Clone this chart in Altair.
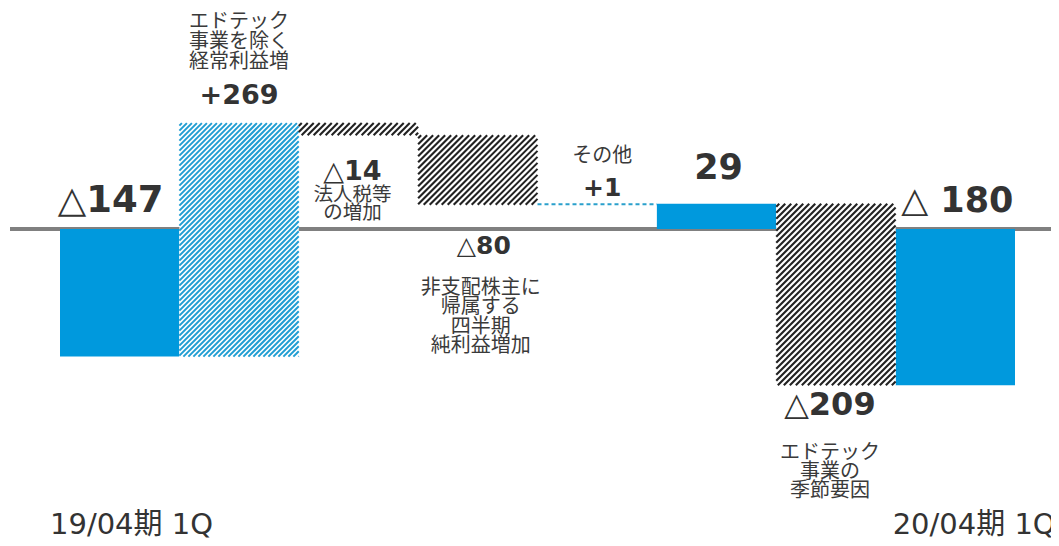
import altair as alt
import pandas as pd

# ---------------- data ----------------
categories = ["19/04期 1Q", "エドテック事業を除く経常利益増", "法人税等の増加",
              "非支配株主に帰属する四半期純利益増加", "その他", "小計",
              "エドテック事業の季節要因", "20/04期 1Q"]
values = [-147, 269, -14, -80, 1, 29, -209, -180]
kinds = ["total", "up", "down", "down", "up", "total", "down", "total"]
value_labels = ["△147", "+269", "△14", "△80", "+1", "29", "△209", "△ 180"]
notes = ["", "エドテック\n事業を除く\n経常利益増", "法人税等\nの増加",
         "非支配株主に\n帰属する\n四半期\n純利益増加", "その他", "",
         "エドテック\n事業の\n季節要因", ""]
axis_labels = ["19/04期 1Q", "20/04期 1Q"]

# waterfall levels
starts, ends = [], []
level = 0
for v, k in zip(values, kinds):
    if k == "total":
        s, e = 0, v
    else:
        s, e = level, level + v
    level = e
    starts.append(s)
    ends.append(e)

n = len(categories)
df = pd.DataFrame({
    "cat": categories, "value": values, "kind": kinds,
    "x0": list(range(n)), "x1": [i + 1 for i in range(n)],
    "xc": [i + 0.5 for i in range(n)],
    "start": starts, "end": ends,
    "hi": [max(a, b) for a, b in zip(starts, ends)],
    "lo": [min(a, b) for a, b in zip(starts, ends)],
    "mid": [(a + b) / 2 for a, b in zip(starts, ends)],
    "vlabel": value_labels, "note": notes,
})

# ---------------- layout / style ----------------
W_TOTAL = 1043
PLOT_H = 530
BARS_LEFT, BARS_RIGHT = 52, 1007          # pixel span of the bar row
STEP = (BARS_RIGHT - BARS_LEFT) / n       # pixels per bar
X_MIN = -BARS_LEFT / STEP
X_MAX = X_MIN + W_TOTAL / STEP
ZERO_PX = 221                             # pixel row of the zero line
PX = 0.868                                # pixels per value unit
Y_MAX = ZERO_PX / PX
Y_MIN = -(PLOT_H - ZERO_PX) / PX

BLUE = "#0099DD"
HATCH_BLUE = "#1F9DD2"
HATCH_DARK = "#222222"
DASH_BLUE = "#2AA0CC"
ZERO_GRAY = "#808080"
NUM_FONT = "DejaVu Sans, Noto Sans CJK JP"
JP_FONT = "Noto Sans CJK JP"

xscale = alt.Scale(domain=[X_MIN, X_MAX], zero=False, nice=False)
yscale = alt.Scale(domain=[Y_MIN, Y_MAX], zero=False, nice=False)


def XQ(f):
    return alt.X(f, type="quantitative", scale=xscale, axis=None)


def YQ(f):
    return alt.Y(f, type="quantitative", scale=yscale, axis=None)


base = alt.Chart(df)

# hatch segments (45 degree lines inside each hatched bar)
HATCH = {"up": (HATCH_BLUE, 5.0, 2.0), "down": (HATCH_DARK, 6.0, 2.1)}
seg_rows = []
for i, (kind, s, e) in enumerate(zip(kinds, starts, ends)):
    if kind == "total":
        continue
    top, bot = max(s, e), min(s, e)
    h = (top - bot) * PX
    if h < 3:
        continue
    color, period, _ = HATCH[kind]
    c = period / 2
    while c < STEP + h:
        u0 = max(0.0, c - h)
        v0 = c - u0
        v1 = max(0.0, c - STEP)
        u1 = c - v1
        seg_rows.append({"kind": kind,
                         "sx": i + u0 / STEP, "sy": top - v0 / PX,
                         "ex": i + u1 / STEP, "ey": top - v1 / PX})
        c += period
segs = pd.DataFrame(seg_rows)

layers = []

# zero line (under bars)
layers.append(base.mark_rule(color=ZERO_GRAY, strokeWidth=3.5).encode(
    x=alt.value(2), x2=alt.value(W_TOTAL), y=alt.Y(datum=0, scale=yscale, axis=None)))

# solid totals
layers.append(base.transform_filter("datum.kind == 'total'").mark_bar(color=BLUE).encode(
    x=XQ("x0"), x2="x1", y=YQ("start"), y2="end"))

# white backgrounds of hatched bars (hide the zero line)
layers.append(base.transform_filter(
    f"datum.kind != 'total' && abs(datum.value) * {PX} >= 3").mark_bar(color="white").encode(
    x=XQ("x0"), x2="x1", y=YQ("start"), y2="end"))

# hatching
for kind, (color, period, width) in HATCH.items():
    layers.append(alt.Chart(segs).transform_filter(alt.datum.kind == kind).mark_rule(
        color=color, strokeWidth=width).encode(
        x=XQ("sx"), x2="ex", y=YQ("sy"), y2="ey"))

# tiny delta drawn as a dashed line
layers.append(base.transform_filter(
    f"datum.kind != 'total' && abs(datum.value) * {PX} < 3").mark_rule(
    color=DASH_BLUE, strokeWidth=2, strokeDash=[4, 3]).encode(
    x=XQ("x0"), x2="x1", y=YQ("mid")))

# value labels: (anchor, dx, dy, size)
val_style = [
    ("zero", -9, -17, 37),
    ("hi", 0, -19, 27),
    ("lo", -6, 45, 27),
    ("zero", 6, 25, 25),
    ("hi", 5, -8, 25),
    ("hi", 2, -25, 35),
    ("lo", -6, 30, 32),
    ("zero", 2, -17, 35),
]


def anchor_y(anchor):
    if anchor == "zero":
        return alt.Y(datum=0, scale=yscale, axis=None)
    return YQ(anchor)


for cat, (anchor, dx, dy, size) in zip(categories, val_style):
    layers.append(base.transform_filter(alt.datum.cat == cat).mark_text(
        font=NUM_FONT, fontWeight="bold", fontSize=size, color="#333333",
        align="center", baseline="alphabetic", dx=dx, dy=dy).encode(
        x=XQ("xc"), y=anchor_y(anchor), text="vlabel:N"))

# notes: (anchor, dx, dy, size, lineHeight)
note_style = {
    1: ("hi", 0, -111, 20, 20),
    2: ("lo", -6, 51, 19.5, 18),
    3: ("zero", 3, 49, 20, 19.3),
    4: ("hi", 5, -58, 20, 20),
    6: ("lo", -6, 58, 20, 18.7),
}
for i, (anchor, dx, dy, size, lh) in note_style.items():
    layers.append(base.transform_filter(alt.datum.cat == categories[i]).mark_text(
        font=JP_FONT, fontSize=size, color="#3a3a3a", align="center", baseline="top",
        lineBreak="\n", lineHeight=lh, dx=dx, dy=dy).encode(
        x=XQ("xc"), y=anchor_y(anchor), text="note:N"))

# period labels at the bottom
for lab, dx in zip(axis_labels, [-10, -3]):
    layers.append(base.transform_filter(alt.datum.cat == lab).mark_text(
        font=NUM_FONT, fontSize=29, color="#333333", align="left", baseline="alphabetic",
        dx=dx, dy=-4).encode(
        x=XQ("x0"), y=alt.Y(datum=Y_MIN, scale=yscale, axis=None), text="cat:N"))

chart = alt.layer(*layers).properties(
    width=W_TOTAL, height=PLOT_H, padding=0,
    autosize=alt.AutoSizeParams(type="none"),
).configure(background="white").configure_view(strokeWidth=0)

chart.save("out.html", embed_options={"renderer": "svg", "actions": False})
